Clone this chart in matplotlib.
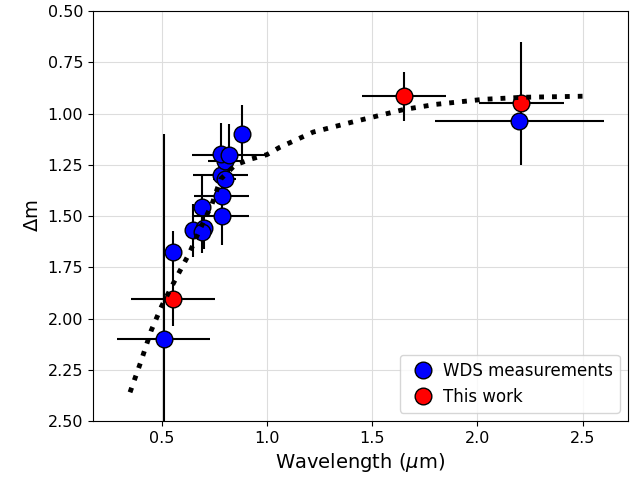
import matplotlib
matplotlib.use("Agg")
import matplotlib.pyplot as plt
import numpy as np

# WDS measurements (wavelength in micron, delta m)
wds_x = [0.51, 0.555, 0.65, 0.69, 0.70, 0.69, 0.785, 0.785, 0.78, 0.80, 0.80, 0.78, 0.82, 0.88, 2.20]
wds_y = [2.10, 1.675, 1.57, 1.455, 1.56, 1.58, 1.50, 1.40, 1.30, 1.32, 1.23, 1.195, 1.20, 1.10, 1.035]
wds_xerr = [0.22, 0.0, 0.0, 0.045, 0.0, 0.0, 0.13, 0.13, 0.13, 0.055, 0.08, 0.0, 0.175, 0.0, 0.40]
wds_yerr = [1.0, 0.10, 0.13, 0.16, 0.10, 0.10, 0.14, 0.0, 0.0, 0.0, 0.0, 0.15, 0.15, 0.14, 0.0]

# this work
our_x = [0.555, 1.65, 2.21]
our_y = [1.905, 0.915, 0.95]
our_xerr = [0.20, 0.20, 0.20]
our_yerr = [0.13, 0.12, 0.30]

# model curve (dotted)
curve_x = [0.35, 0.40, 0.45, 0.50, 0.57, 0.63, 0.68, 0.74, 0.78, 0.85, 0.93, 1.00, 1.06,
           1.22, 1.41, 1.57, 1.65, 1.80, 2.03, 2.22, 2.50]
curve_y = [2.36, 2.215, 2.06, 1.94, 1.80, 1.685, 1.57, 1.44, 1.32, 1.25, 1.22, 1.20, 1.165,
           1.09, 1.04, 1.00, 0.98, 0.955, 0.93, 0.92, 0.915]

fig = plt.figure(figsize=(6.42, 4.87), dpi=100)
ax = fig.add_axes([0.145, 0.1355, 0.833, 0.8415])

ax.errorbar(wds_x, wds_y, xerr=wds_xerr, yerr=wds_yerr, fmt='none', ecolor='k', elinewidth=1.5, zorder=2)
ax.errorbar(our_x, our_y, xerr=our_xerr, yerr=our_yerr, fmt='none', ecolor='k', elinewidth=1.5, zorder=2)
ax.plot(our_x, our_y, 'o', color='red', mec='k', ms=12, zorder=3)
ax.plot(wds_x, wds_y, 'o', color='blue', mec='k', ms=12, zorder=3)
ax.plot(curve_x, curve_y, ':', color='k', lw=3.5, zorder=4)

h1, = ax.plot([], [], 'o', color='blue', mec='k', ms=12, label='WDS measurements')
h2, = ax.plot([], [], 'o', color='red', mec='k', ms=12, label='This work')
ax.legend(handles=[h1, h2], loc='lower right', fontsize=12, handletextpad=0.2, borderpad=0.4)

ax.set_ylim(2.5, 0.5)
ax.set_yticks(np.arange(0.5, 2.51, 0.25))
ax.grid(True, color='#dddddd')
ax.set_axisbelow(True)
ax.tick_params(labelsize=11.5)
ax.set_xlabel(r'Wavelength ($\mu$m)', fontsize=14)
ax.set_ylabel(r'$\Delta$m', fontsize=14)

fig.savefig('out.png', dpi=100)
